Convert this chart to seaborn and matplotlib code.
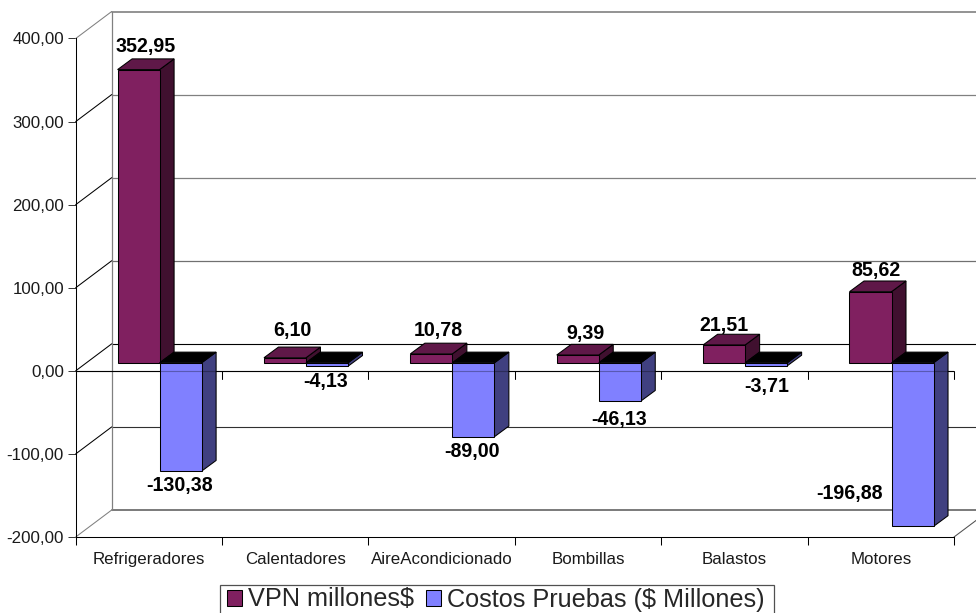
import matplotlib
matplotlib.use("Agg")
import matplotlib.pyplot as plt
import pandas as pd
import seaborn as sns
from matplotlib.patches import Polygon, Rectangle
from matplotlib.transforms import Affine2D, IdentityTransform

categories = ["Refrigeradores", "Calentadores", "AireAcondicionado", "Bombillas", "Balastos", "Motores"]
vpn = [352.95, 6.10, 10.78, 9.39, 21.51, 85.62]
costos = [-130.38, -4.13, -89.00, -46.13, -3.71, -196.88]
series_names = ["VPN millones$", "Costos Pruebas ($ Millones)"]
y_ticks = [-200, -100, 0, 100, 200, 300, 400]

sns.set_style("white")
plt.rcParams["font.family"] = ["Liberation Sans", "DejaVu Sans"]

W, H = 976, 613
fig = plt.figure(figsize=(W / 100, H / 100), dpi=100, facecolor="white")
ax = fig.add_axes([75.7 / W, 1 - 537 / H, (954 - 75.7) / W, (537 - 38.5) / H])

df = pd.DataFrame({
    "cat": categories * 2,
    "val": vpn + costos,
    "serie": [series_names[0]] * 6 + [series_names[1]] * 6,
})
FRONT = {series_names[0]: "#802060", series_names[1]: "#8080FF"}
sns.barplot(data=df, x="cat", y="val", hue="serie", hue_order=series_names, palette=FRONT,
            saturation=1, width=0.574, ax=ax, legend=False, edgecolor="black", linewidth=0.75, errorbar=None)

ax.set_xlim(-0.5, 5.5)
ax.set_ylim(-200, 400)
ax.set_xlabel("")
ax.set_ylabel("")
ax.patch.set_alpha(0)
for s in ("top", "right"):
    ax.spines[s].set_visible(False)
for s in ("left", "bottom"):
    ax.spines[s].set_color("black")
    ax.spines[s].set_linewidth(0.75)
    ax.spines[s].set_zorder(2)

ax.set_yticks(y_ticks)
ax.set_yticklabels([f"{v:.2f}".replace(".", ",") for v in y_ticks], fontsize=12.2, color="#1a1a1a")
ax.tick_params(axis="y", left=True, length=5.5, width=0.7, pad=3, color="#333333")
ax.set_xticks(range(6))
ax.set_xticklabels(categories, fontsize=12.2, color="#1a1a1a")
ax.tick_params(axis="x", which="major", bottom=False, length=0, pad=11)
bounds = [i - 0.5 for i in range(7)]
ax.set_xticks(bounds, minor=True)
ax.tick_params(axis="x", which="minor", bottom=True, length=5.8, width=0.75, color="black")

fig.canvas.draw()
ident = IdentityTransform()
to_px = ax.transData.transform

# walls of the pseudo-3D box
WALL_DX, WALL_DY = 36, 27
wall_colors = {400: ("#808080", 1.2), 300: ("#808080", 0.9), 200: ("#808080", 0.9), 100: ("#707070", 0.9),
               0: ("#000000", 0.8), -100: ("#303030", 0.8), -200: ("#707070", 1.3)}
diag_colors = {400: "#808080", -200: "#808080"}
x_left, x_right = ax.get_xlim()
for v in y_ticks:
    p0 = to_px((x_left, v))
    p1 = to_px((x_right, v))
    c, lw = wall_colors[v]
    ax.plot([p0[0] + WALL_DX, p1[0] + WALL_DX], [p0[1] + WALL_DY, p1[1] + WALL_DY],
            color=c, lw=lw, transform=ident, clip_on=False, zorder=1)
    ax.plot([p0[0], p0[0] + WALL_DX], [p0[1], p0[1] + WALL_DY], color=diag_colors.get(v, "black"),
            lw=0.75, transform=ident, clip_on=False, zorder=1.1)
bot = to_px((x_left, -200))
top = to_px((x_left, 400))
ax.plot([bot[0] + WALL_DX] * 2, [bot[1] + WALL_DY, top[1] + WALL_DY], color="#808080", lw=0.9,
        transform=ident, clip_on=False, zorder=1.05)
br = to_px((x_right, -200))
ax.plot([br[0], br[0] + WALL_DX], [br[1], br[1] + WALL_DY], color="#505050", lw=0.75,
        transform=ident, clip_on=False, zorder=1.1)

# zero axis with its tick marks
ax.axhline(0, color="black", lw=0.8, zorder=2)
tick_len = 8 * (ax.get_ylim()[1] - ax.get_ylim()[0]) / ax.get_window_extent().height
for b in bounds:
    ax.plot([b, b], [0, -tick_len], color="black", lw=0.75, clip_on=False, zorder=2)

# bars: shift the seaborn faces into the box and add the side and top faces
BAR_DX, BAR_DY = 10.7, 8
SIDE_DX, SIDE_DY = 14.5, 10.7
shift = Affine2D().translate(BAR_DX, BAR_DY)
SIDE = {0: "#40102F", 1: "#404080"}
TOP = {0: "#5F1848", 1: "#000000"}
LABEL_OFF = {0: [(7, 23), (7, 27), (7, 23), (8, 22), (0, 19), (5, 21)],
             1: [(-1.5, -14), (-1, -15), (-1, -15), (-1, -18), (1, -21), (-63, 33)]}
for s, cont in enumerate(ax.containers):
    for i, bar in enumerate(cont):
        z = 3 + i + s * 0.5
        bb = bar.get_bbox()
        p0, p1 = to_px((bb.x0, bb.y0)), to_px((bb.x1, bb.y1))
        xl, xr = p0[0] + BAR_DX, p1[0] + BAR_DX
        yb, yt = min(p0[1], p1[1]) + BAR_DY, max(p0[1], p1[1]) + BAR_DY
        side = Polygon([(xr, yb), (xr, yt), (xr + SIDE_DX, yt + SIDE_DY), (xr + SIDE_DX, yb + SIDE_DY)],
                       closed=True, fc=SIDE[s], ec="black", lw=0.75, transform=ident, clip_on=False, zorder=z)
        roof = Polygon([(xl, yt), (xr, yt), (xr + SIDE_DX, yt + SIDE_DY), (xl + SIDE_DX, yt + SIDE_DY)],
                       closed=True, fc=TOP[s], ec="black", lw=0.75, transform=ident, clip_on=False, zorder=z)
        ax.add_patch(side)
        ax.add_patch(roof)
        bar.set_transform(ax.transData + shift)
        bar.set_clip_on(False)
        bar.set_zorder(z + 0.1)
        val = (vpn, costos)[s][i]
        anchor_y = yt if s == 0 else yb
        ox, oy = LABEL_OFF[s][i]
        ax.text((xl + xr) / 2 + ox, anchor_y + oy, f"{val:.2f}".replace(".", ","), transform=ident,
                ha="center", va="center", fontsize=14.1, fontweight="bold", color="black", zorder=20, clip_on=False)

ax.axhline(0, color="black", lw=0.8, alpha=0.3, zorder=15)

# legend frame runs past the lower edge of the picture, as in the reference
fig.add_artist(Rectangle((220, -10), 554, H - 585 + 10, transform=ident, fc="white", ec="#505050", lw=0.9))
handles = [ax.containers[0][0], ax.containers[1][0]]
leg = fig.legend(handles, series_names, loc="upper left", bbox_to_anchor=(227 / W, 1 - 587.5 / H), borderaxespad=0,
                 ncol=2, frameon=False, fontsize=18.2, handlelength=0.6, handleheight=0.6,
                 handletextpad=0.25, columnspacing=0.45, borderpad=0)

fig.savefig("out.png", dpi=100, facecolor="white")
